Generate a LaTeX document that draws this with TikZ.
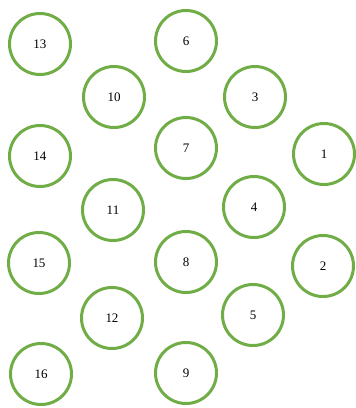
\documentclass[tikz,border=0pt]{standalone}
\usepackage{fontspec}
\setmainfont{Liberation Serif}
\usepackage{tikz}
\definecolor{green}{HTML}{70AD47}

\begin{document}
\begin{tikzpicture}[x=1pt,y=-1pt,
    ring/.style={circle,draw=green,line width=3pt,minimum size=61pt,inner sep=0pt,font=\fontsize{13}{15}\selectfont}]
      \useasboundingbox (0,0) rectangle (356,408);
      \node[ring] (c13) at (40,44) {13};
      \node[ring] (c6) at (186,41) {6};
      \node[ring] (c10) at (114,97) {10};
      \node[ring] (c3) at (255,97) {3};
      \node[ring] (c14) at (40,156) {14};
      \node[ring] (c7) at (186,148) {7};
      \node[ring] (c1) at (324,154) {1};
      \node[ring] (c11) at (113,210) {11};
      \node[ring] (c4) at (254,207) {4};
      \node[ring] (c15) at (39,263) {15};
      \node[ring] (c8) at (186,262) {8};
      \node[ring] (c2) at (323,266) {2};
      \node[ring] (c12) at (112,318) {12};
      \node[ring] (c5) at (253,315) {5};
      \node[ring] (c16) at (41,374) {16};
      \node[ring] (c9) at (186,373) {9};
    \end{tikzpicture}
\end{document}
